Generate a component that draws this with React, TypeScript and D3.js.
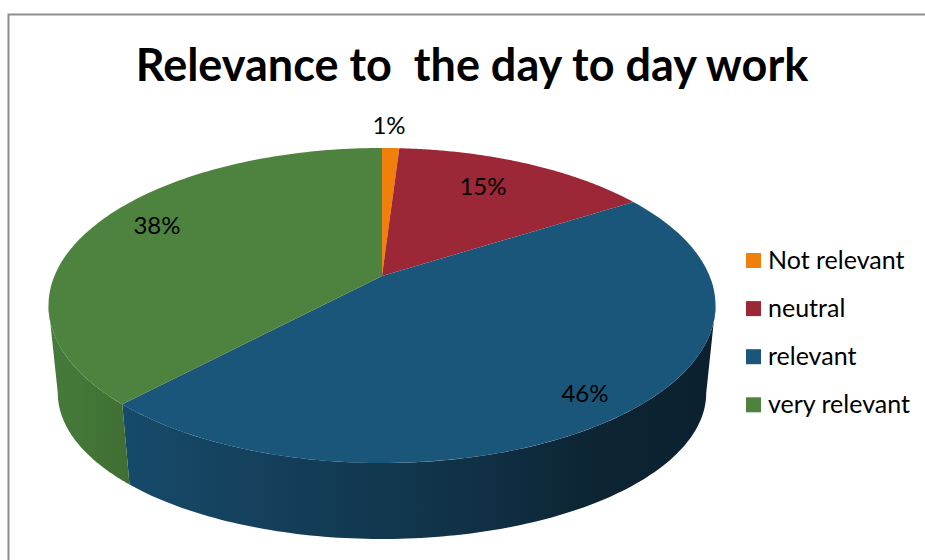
import React from "react";
import * as d3 from "d3";

const categories = ["Not relevant", "neutral", "relevant", "very relevant"];
const shares = [1, 15, 46, 38];
const topColors = ["#f0800a", "#9c2736", "#1a567a", "#4e833f"];
const chartTitle = "Relevance to  the day to day work";
const labelPositions = [
  [389, 134],
  [483, 195],
  [585, 402],
  [157, 234],
];
const FONT = "Lato, Carlito, sans-serif";

// Tilted disc: a projective map from the unit circle onto the screen.
const CX = 382;
const K = 0.1873;
const topFace = { x: 327.6, y: 152, y0: 276 };
const bottomFace = { x: 318.5, y: 141, y0: 365.5 };

type Face = typeof topFace;
const project = (face: Face, a: number): [number, number] => {
  const u = Math.sin(a);
  const v = Math.cos(a);
  const w = 1 + K * v;
  return [CX + (face.x * u) / w, face.y0 - (face.y * v) / w];
};

const pieAngles = d3.pie<number>().sort(null)(shares);
const line = d3.line();

const arcSamples = (a0: number, a1: number) =>
  d3.range(0, 121).map((i) => a0 + ((a1 - a0) * i) / 120);

const slicePath = (a0: number, a1: number) =>
  line([[CX, topFace.y0], ...arcSamples(a0, a1).map((a) => project(topFace, a))]) + "Z";

const wallPath = (a0: number, a1: number) =>
  line([
    ...arcSamples(a0, a1).map((a) => project(topFace, a)),
    ...arcSamples(a1, a0).map((a) => project(bottomFace, a)),
  ]) + "Z";

// The wall shows between the two silhouette points where the rim is widest.
const rightLimit = Math.acos(-K);
const leftLimit = 2 * Math.PI - rightLimit;

export default function App() {
  const seam = pieAngles[2].endAngle;
  return (
    <svg
      width={925}
      height={560}
      style={{ position: "absolute", left: 0, top: 0, background: "#fff" }}
    >
      <defs>
        <linearGradient id="blueSide" gradientUnits="userSpaceOnUse" x1={127} x2={716} y1={0} y2={0}>
          <stop offset="0" stopColor="#164a6a" />
          <stop offset="0.3" stopColor="#133d57" />
          <stop offset="0.6" stopColor="#103045" />
          <stop offset="0.8" stopColor="#0c2433" />
          <stop offset="1" stopColor="#0b212f" />
        </linearGradient>
        <linearGradient id="greenSide" gradientUnits="userSpaceOnUse" x1={49} x2={133} y1={0} y2={0}>
          <stop offset="0" stopColor="#467b3b" />
          <stop offset="1" stopColor="#3f6e33" />
        </linearGradient>
      </defs>

      <path d="M925,14.5H8.5V560" fill="none" stroke="#8e8e8e" strokeWidth={2} />

      <text
        x={472}
        y={81}
        textAnchor="middle"
        fontFamily={FONT}
        fontWeight={700}
        fontSize={45}
        fill="#000"
        style={{ whiteSpace: "pre" }}
      >
        {chartTitle}
      </text>

      <path d={wallPath(rightLimit, seam)} fill="url(#blueSide)" />
      <path d={wallPath(seam, leftLimit)} fill="url(#greenSide)" />

      {pieAngles.map((s, i) => (
        <path key={categories[i]} d={slicePath(s.startAngle, s.endAngle)} fill={topColors[i]} />
      ))}

      {shares.map((v, i) => (
        <text
          key={i}
          x={labelPositions[i][0]}
          y={labelPositions[i][1]}
          textAnchor="middle"
          fontFamily={FONT}
          fontSize={24}
          fill="#000"
        >
          {v}%
        </text>
      ))}

      {categories.map((c, i) => {
        const y = 253 + i * 48.1;
        return (
          <g key={c}>
            <rect x={746} y={y} width={15} height={15} fill={topColors[i]} />
            <text x={768} y={y + 15.5} fontFamily={FONT} fontSize={25} fill="#000">
              {c}
            </text>
          </g>
        );
      })}
    </svg>
  );
}
